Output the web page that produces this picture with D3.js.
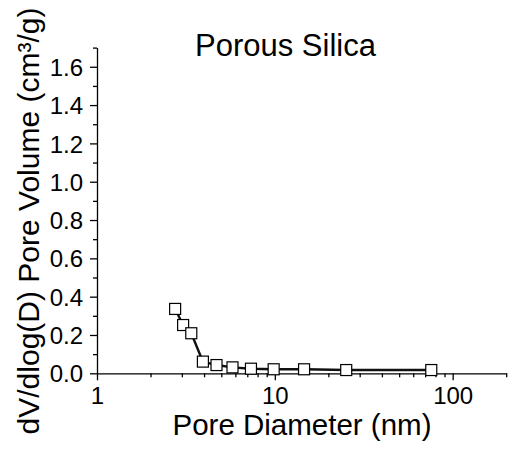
<!DOCTYPE html>
<html>
<head>
<meta charset="utf-8">
<script src="https://cdn.jsdelivr.net/npm/d3@7"></script>
<style>
  body { margin: 0; background: #fff; }
  svg { display: block; font-family: "Liberation Sans", Arial, sans-serif; }
  .axis path, .axis line { stroke: #000; stroke-width: 1.3; }
  .axis text { font-size: 24px; fill: #000; }
</style>
</head>
<body>
<svg width="508" height="450"></svg>
<script>
// pore size distribution
var diameters = [2.75, 3.05, 3.39, 3.94, 4.70, 5.78, 7.34, 9.85, 14.6, 25.2, 75.8],
    volumes = [0.336, 0.252, 0.209, 0.061, 0.043, 0.031, 0.024, 0.021, 0.021, 0.017, 0.017],
    xMajor = [1, 10, 100],
    xMinor = [2, 3, 4, 5, 6, 7, 8, 9, 20, 30, 40, 50, 60, 70, 80, 90, 200],
    yMajor = [0, 0.2, 0.4, 0.6, 0.8, 1.0, 1.2, 1.4, 1.6],
    yMinor = [0.1, 0.3, 0.5, 0.7, 0.9, 1.1, 1.3, 1.5, 1.7];

var svg = d3.select("svg"),
    plotLeft = 97, plotRight = 506.2, plotTop = 47.6, plotBottom = 373.3;

var x = d3.scaleLog().domain([1, 200]).range([plotLeft, plotRight]),
    y = d3.scaleLinear().domain([0, 1.7]).range([plotBottom, plotTop]);

var points = diameters.map(function(d, i) { return {d: d, v: volumes[i]}; });

// minor ticks first, no labels
svg.append("g")
    .attr("class", "axis")
    .attr("transform", "translate(0," + plotBottom + ")")
    .call(d3.axisBottom(x).tickValues(xMinor).tickSize(4).tickFormat(""))
    .select(".domain").remove();

svg.append("g")
    .attr("class", "axis")
    .attr("transform", "translate(" + plotLeft + ",0)")
    .call(d3.axisLeft(y).tickValues(yMinor).tickSize(4).tickFormat(""))
    .select(".domain").remove();

var xAxis = svg.append("g")
    .attr("class", "axis")
    .attr("transform", "translate(0," + plotBottom + ")")
    .call(d3.axisBottom(x).tickValues(xMajor).tickSize(7).tickSizeOuter(0).tickPadding(7)
      .tickFormat(d3.format("d")));

var yAxis = svg.append("g")
    .attr("class", "axis")
    .attr("transform", "translate(" + plotLeft + ",0)")
    .call(d3.axisLeft(y).tickValues(yMajor).tickSize(7).tickSizeOuter(0).tickPadding(7)
      .tickFormat(d3.format(".1f")));

yAxis.selectAll("text").attr("dy", "0.36em");

// connecting line
var line = d3.line()
    .x(function(p) { return x(p.d); })
    .y(function(p) { return y(p.v); });

svg.append("path")
    .datum(points)
    .attr("d", line)
    .attr("fill", "none")
    .attr("stroke", "#111")
    .attr("stroke-width", 2.4);

var size = 11;
svg.append("g").selectAll("rect")
    .data(points)
    .enter().append("rect")
    .attr("x", function(p) { return x(p.d) - size / 2; })
    .attr("y", function(p) { return y(p.v) - size / 2; })
    .attr("width", size)
    .attr("height", size)
    .attr("fill", "#fff")
    .attr("stroke", "#000")
    .attr("stroke-width", 1.2);

svg.append("text")
    .attr("x", 285.5)
    .attr("y", 55.7)
    .attr("text-anchor", "middle")
    .style("font-size", "31px")
    .text("Porous Silica");

svg.append("text")
    .attr("x", 302)
    .attr("y", 435)
    .attr("text-anchor", "middle")
    .style("font-size", "29.5px")
    .text("Pore Diameter (nm)");

svg.append("text")
    .attr("transform", "translate(39,221) rotate(-90)")
    .attr("text-anchor", "middle")
    .style("font-size", "30px")
    .text("dV/dlog(D) Pore Volume (cm³/g)");
</script>
</body>
</html>
